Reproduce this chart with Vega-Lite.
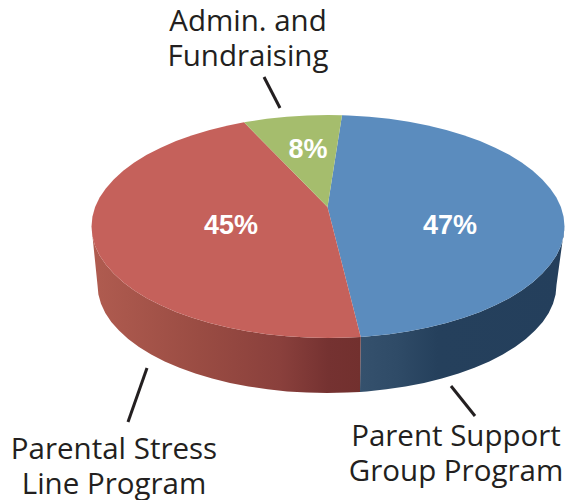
{"$schema":"https://vega.github.io/schema/vega-lite/v6.json","width":577,"height":500,"padding":0,"autosize":{"type":"none"},"background":"white","view":{"stroke":null},
"datasets":{"outline":[
{"p":"sb","o":1,"x":564.5,"y":226.5},{"p":"sb","o":2,"x":563.6,"y":236.2},{"p":"sb","o":3,"x":560.9,"y":245.9},{"p":"sb","o":4,"x":556.4,"y":255.4},{"p":"sb","o":5,"x":550.2,"y":264.6},{"p":"sb","o":6,"x":542.3,"y":273.6},{"p":"sb","o":7,"x":532.8,"y":282.3},{"p":"sb","o":8,"x":521.7,"y":290.5},{"p":"sb","o":9,"x":509.2,"y":298.2},{"p":"sb","o":10,"x":495.2,"y":305.3},{"p":"sb","o":11,"x":480,"y":311.9},{"p":"sb","o":12,"x":463.7,"y":317.8},{"p":"sb","o":13,"x":446.3,"y":323.1},{"p":"sb","o":14,"x":427.9,"y":327.6},{"p":"sb","o":15,"x":408.9,"y":331.3},{"p":"sb","o":16,"x":389.2,"y":334.2},{"p":"sb","o":17,"x":369.1,"y":336.3},{"p":"sb","o":18,"x":360.7,"y":336.9},
{"p":"sb","o":19,"x":360,"y":391.9},{"p":"sb","o":20,"x":366.8,"y":391.4},{"p":"sb","o":21,"x":386.4,"y":389.3},{"p":"sb","o":22,"x":405.5,"y":386.5},{"p":"sb","o":23,"x":424,"y":382.9},{"p":"sb","o":24,"x":441.8,"y":378.5},{"p":"sb","o":25,"x":458.6,"y":373.5},{"p":"sb","o":26,"x":474.5,"y":367.7},{"p":"sb","o":27,"x":489.3,"y":361.4},{"p":"sb","o":28,"x":502.8,"y":354.4},{"p":"sb","o":29,"x":515,"y":346.9},{"p":"sb","o":30,"x":525.8,"y":339},{"p":"sb","o":31,"x":535,"y":330.6},{"p":"sb","o":32,"x":542.7,"y":321.9},{"p":"sb","o":33,"x":548.7,"y":313},{"p":"sb","o":34,"x":553,"y":303.7},{"p":"sb","o":35,"x":555.6,"y":294.4},{"p":"sb","o":36,"x":556.5,"y":285},
{"p":"sr","o":1,"x":360.7,"y":336.9},{"p":"sr","o":2,"x":348.6,"y":337.6},{"p":"sr","o":3,"x":328,"y":338},{"p":"sr","o":4,"x":307.4,"y":337.6},{"p":"sr","o":5,"x":286.9,"y":336.3},{"p":"sr","o":6,"x":266.8,"y":334.2},{"p":"sr","o":7,"x":247.1,"y":331.3},{"p":"sr","o":8,"x":228.1,"y":327.6},{"p":"sr","o":9,"x":209.7,"y":323.1},{"p":"sr","o":10,"x":192.3,"y":317.8},{"p":"sr","o":11,"x":176,"y":311.9},{"p":"sr","o":12,"x":160.8,"y":305.3},{"p":"sr","o":13,"x":146.8,"y":298.2},{"p":"sr","o":14,"x":134.3,"y":290.5},{"p":"sr","o":15,"x":123.2,"y":282.3},{"p":"sr","o":16,"x":113.7,"y":273.6},{"p":"sr","o":17,"x":105.8,"y":264.6},{"p":"sr","o":18,"x":99.6,"y":255.4},{"p":"sr","o":19,"x":95.1,"y":245.9},{"p":"sr","o":20,"x":92.4,"y":236.2},{"p":"sr","o":21,"x":91.5,"y":226.5},
{"p":"sr","o":22,"x":97.5,"y":285},{"p":"sr","o":23,"x":98.4,"y":294.4},{"p":"sr","o":24,"x":101,"y":303.7},{"p":"sr","o":25,"x":105.3,"y":313},{"p":"sr","o":26,"x":111.3,"y":321.9},{"p":"sr","o":27,"x":119,"y":330.6},{"p":"sr","o":28,"x":128.2,"y":339},{"p":"sr","o":29,"x":139,"y":346.9},{"p":"sr","o":30,"x":151.2,"y":354.4},{"p":"sr","o":31,"x":164.7,"y":361.4},{"p":"sr","o":32,"x":179.5,"y":367.7},{"p":"sr","o":33,"x":195.4,"y":373.5},{"p":"sr","o":34,"x":212.2,"y":378.5},{"p":"sr","o":35,"x":230,"y":382.9},{"p":"sr","o":36,"x":248.5,"y":386.5},{"p":"sr","o":37,"x":267.6,"y":389.3},{"p":"sr","o":38,"x":287.2,"y":391.4},{"p":"sr","o":39,"x":307,"y":392.6},{"p":"sr","o":40,"x":327,"y":393},{"p":"sr","o":41,"x":347,"y":392.6},{"p":"sr","o":42,"x":360,"y":391.9},
{"p":"tb","o":1,"x":327.5,"y":207},{"p":"tb","o":2,"x":342,"y":115.2},{"p":"tb","o":3,"x":348.6,"y":115.4},{"p":"tb","o":4,"x":369.1,"y":116.7},{"p":"tb","o":5,"x":389.2,"y":118.8},{"p":"tb","o":6,"x":408.9,"y":121.7},{"p":"tb","o":7,"x":427.9,"y":125.4},{"p":"tb","o":8,"x":446.3,"y":129.9},{"p":"tb","o":9,"x":463.7,"y":135.2},{"p":"tb","o":10,"x":480,"y":141.1},{"p":"tb","o":11,"x":495.2,"y":147.7},{"p":"tb","o":12,"x":509.2,"y":154.8},{"p":"tb","o":13,"x":521.7,"y":162.5},{"p":"tb","o":14,"x":532.8,"y":170.7},{"p":"tb","o":15,"x":542.3,"y":179.4},{"p":"tb","o":16,"x":550.2,"y":188.4},{"p":"tb","o":17,"x":556.4,"y":197.6},{"p":"tb","o":18,"x":560.9,"y":207.1},{"p":"tb","o":19,"x":563.6,"y":216.8},{"p":"tb","o":20,"x":564.5,"y":226.5},{"p":"tb","o":21,"x":563.6,"y":236.2},{"p":"tb","o":22,"x":560.9,"y":245.9},{"p":"tb","o":23,"x":556.4,"y":255.4},{"p":"tb","o":24,"x":550.2,"y":264.6},{"p":"tb","o":25,"x":542.3,"y":273.6},{"p":"tb","o":26,"x":532.8,"y":282.3},{"p":"tb","o":27,"x":521.7,"y":290.5},{"p":"tb","o":28,"x":509.2,"y":298.2},{"p":"tb","o":29,"x":495.2,"y":305.3},{"p":"tb","o":30,"x":480,"y":311.9},{"p":"tb","o":31,"x":463.7,"y":317.8},{"p":"tb","o":32,"x":446.3,"y":323.1},{"p":"tb","o":33,"x":427.9,"y":327.6},{"p":"tb","o":34,"x":408.9,"y":331.3},{"p":"tb","o":35,"x":389.2,"y":334.2},{"p":"tb","o":36,"x":369.1,"y":336.3},{"p":"tb","o":37,"x":360.7,"y":336.9},
{"p":"tr","o":1,"x":327.5,"y":207},{"p":"tr","o":2,"x":360.7,"y":336.9},{"p":"tr","o":3,"x":348.6,"y":337.6},{"p":"tr","o":4,"x":328,"y":338},{"p":"tr","o":5,"x":307.4,"y":337.6},{"p":"tr","o":6,"x":286.9,"y":336.3},{"p":"tr","o":7,"x":266.8,"y":334.2},{"p":"tr","o":8,"x":247.1,"y":331.3},{"p":"tr","o":9,"x":228.1,"y":327.6},{"p":"tr","o":10,"x":209.7,"y":323.1},{"p":"tr","o":11,"x":192.3,"y":317.8},{"p":"tr","o":12,"x":176,"y":311.9},{"p":"tr","o":13,"x":160.8,"y":305.3},{"p":"tr","o":14,"x":146.8,"y":298.2},{"p":"tr","o":15,"x":134.3,"y":290.5},{"p":"tr","o":16,"x":123.2,"y":282.3},{"p":"tr","o":17,"x":113.7,"y":273.6},{"p":"tr","o":18,"x":105.8,"y":264.6},{"p":"tr","o":19,"x":99.6,"y":255.4},{"p":"tr","o":20,"x":95.1,"y":245.9},{"p":"tr","o":21,"x":92.4,"y":236.2},{"p":"tr","o":22,"x":91.5,"y":226.5},{"p":"tr","o":23,"x":92.4,"y":216.8},{"p":"tr","o":24,"x":95.1,"y":207.1},{"p":"tr","o":25,"x":99.6,"y":197.6},{"p":"tr","o":26,"x":105.8,"y":188.4},{"p":"tr","o":27,"x":113.7,"y":179.4},{"p":"tr","o":28,"x":123.2,"y":170.7},{"p":"tr","o":29,"x":134.3,"y":162.5},{"p":"tr","o":30,"x":146.8,"y":154.8},{"p":"tr","o":31,"x":160.8,"y":147.7},{"p":"tr","o":32,"x":176,"y":141.1},{"p":"tr","o":33,"x":192.3,"y":135.2},{"p":"tr","o":34,"x":209.7,"y":129.9},{"p":"tr","o":35,"x":228.1,"y":125.4},{"p":"tr","o":36,"x":244,"y":122.3},
{"p":"tg","o":1,"x":327.5,"y":207},{"p":"tg","o":2,"x":244,"y":122.3},{"p":"tg","o":3,"x":247.1,"y":121.7},{"p":"tg","o":4,"x":266.8,"y":118.8},{"p":"tg","o":5,"x":286.9,"y":116.7},{"p":"tg","o":6,"x":307.4,"y":115.4},{"p":"tg","o":7,"x":328,"y":115},{"p":"tg","o":8,"x":342,"y":115.2}
],
"leaders":[{"x":264,"y":77,"x2":280,"y2":108},{"x":147,"y":368,"x2":128,"y2":422},{"x":451,"y":386,"x2":475,"y2":416}],
"labels":[{"x":248,"y":31,"t":"Admin. and\nFundraising"},{"x":114,"y":459,"t":"Parental Stress\nLine Program"},{"x":456,"y":446,"t":"Parent Support\nGroup Program"}],
"pct":[{"x":450,"y":226,"t":"47%"},{"x":231,"y":226,"t":"45%"},{"x":308,"y":150,"t":"8%"}]},
"layer":[
{"data":{"name":"outline"},"transform":[{"filter":"datum.p==='sb'"}],"mark":{"type":"line","strokeWidth":0,"fill":{"gradient":"linear","x1":0,"y1":0,"x2":1,"y2":0,"stops":[{"offset":0,"color":"#35516d"},{"offset":0.18,"color":"#2f4b67"},{"offset":0.38,"color":"#25405c"},{"offset":1,"color":"#243f5c"}]}},"encoding":{"x":{"field":"x","type":"quantitative","scale":{"domain":[0,577],"nice":false,"zero":false},"axis":null},"y":{"field":"y","type":"quantitative","scale":{"domain":[0,500],"reverse":true,"nice":false,"zero":false},"axis":null},"order":{"field":"o","type":"quantitative"}}},
{"data":{"name":"outline"},"transform":[{"filter":"datum.p==='sr'"}],"mark":{"type":"line","strokeWidth":0,"fill":{"gradient":"linear","x1":0,"y1":0,"x2":1,"y2":0,"stops":[{"offset":0,"color":"#b05c50"},{"offset":0.4,"color":"#9a4c43"},{"offset":0.7,"color":"#8a403c"},{"offset":0.88,"color":"#753231"},{"offset":1,"color":"#72302e"}]}},"encoding":{"x":{"field":"x","type":"quantitative"},"y":{"field":"y","type":"quantitative"},"order":{"field":"o","type":"quantitative"}}},
{"data":{"name":"outline"},"transform":[{"filter":"datum.p==='tb'"}],"mark":{"type":"line","strokeWidth":0,"fill":"#5b8cbe"},"encoding":{"x":{"field":"x","type":"quantitative"},"y":{"field":"y","type":"quantitative"},"order":{"field":"o","type":"quantitative"}}},
{"data":{"name":"outline"},"transform":[{"filter":"datum.p==='tr'"}],"mark":{"type":"line","strokeWidth":0,"fill":"#c5615b"},"encoding":{"x":{"field":"x","type":"quantitative"},"y":{"field":"y","type":"quantitative"},"order":{"field":"o","type":"quantitative"}}},
{"data":{"name":"outline"},"transform":[{"filter":"datum.p==='tg'"}],"mark":{"type":"line","strokeWidth":0,"fill":"#a5bd6d"},"encoding":{"x":{"field":"x","type":"quantitative"},"y":{"field":"y","type":"quantitative"},"order":{"field":"o","type":"quantitative"}}},
{"data":{"name":"leaders"},"mark":{"type":"rule","color":"#231f20","strokeWidth":3},"encoding":{"x":{"field":"x","type":"quantitative"},"y":{"field":"y","type":"quantitative"},"x2":{"field":"x2"},"y2":{"field":"y2"}}},
{"data":{"name":"labels"},"mark":{"type":"text","font":"Open Sans","fontSize":29.5,"lineHeight":34.5,"lineBreak":"\n","color":"#231f20","align":"center","baseline":"alphabetic"},"encoding":{"x":{"field":"x","type":"quantitative"},"y":{"field":"y","type":"quantitative"},"text":{"field":"t"}}},
{"data":{"name":"pct"},"mark":{"type":"text","font":"Liberation Sans","fontWeight":"bold","fontSize":27,"color":"white","align":"center","baseline":"middle"},"encoding":{"x":{"field":"x","type":"quantitative"},"y":{"field":"y","type":"quantitative"},"text":{"field":"t"}}}
]}
